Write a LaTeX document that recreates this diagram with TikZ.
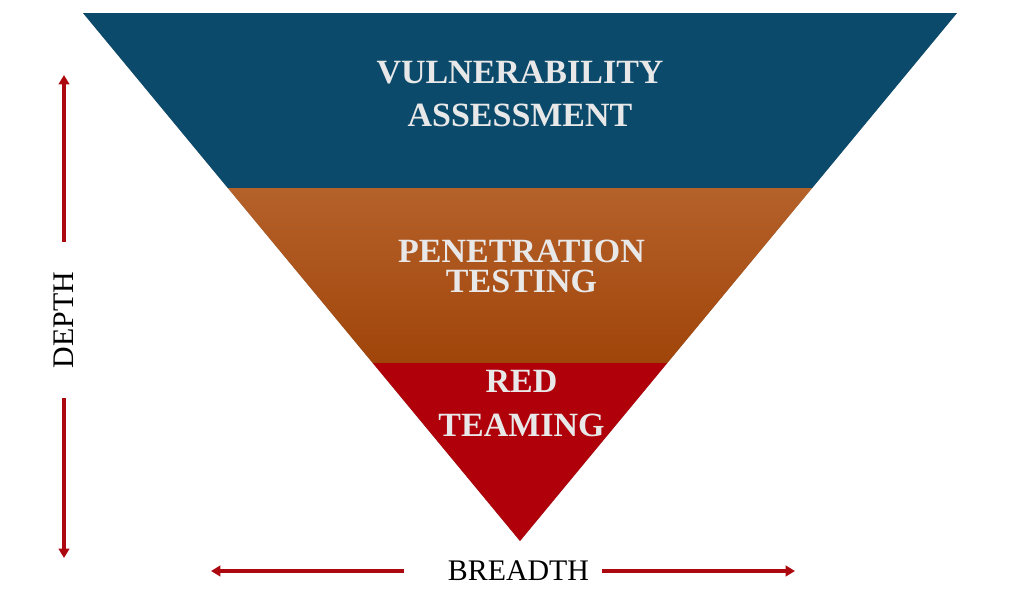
\documentclass[tikz,border=0pt]{standalone}
\usepackage{fontspec}
\setmainfont{Liberation Serif}
\usetikzlibrary{arrows.meta}

\definecolor{vaBlue}{RGB}{11,74,107}
\definecolor{ptTop}{RGB}{181,97,42}
\definecolor{ptBottom}{RGB}{160,69,10}
\definecolor{rtRed}{RGB}{176,0,10}
\definecolor{labelGrey}{RGB}{232,232,232}
\definecolor{axisRed}{RGB}{172,8,16}

\tikzset{
  bandtext/.style={anchor=center, inner sep=0pt, text=labelGrey, align=center},
  axislabel/.style={inner sep=0pt, text=black,
    font=\fontsize{25.5}{27}\selectfont},
  axisarrow/.style={draw=axisRed, line width=2.8pt,
    -{Triangle[width=9pt,length=8pt]}},
}

\begin{document}
\begin{tikzpicture}[x=0.03cm, y=-0.03cm]
  \useasboundingbox (0,0) rectangle (1020,589);

  % corners of the funnel and of its three bands
  \coordinate (TL) at (83,13);
  \coordinate (TR) at (957,13);
  \coordinate (L1) at (227.8,188);
  \coordinate (R1) at (812.2,188);
  \coordinate (L2) at (372.7,363);
  \coordinate (R2) at (667.3,363);
  \coordinate (tip) at (520,541);

  % soft drop shadow under the funnel
  \foreach \d/\o in {3.5/0.08, 2.5/0.12, 1.5/0.18}
    \fill[black, opacity=\o, shift={(\d,\d)}] (TL) -- (TR) -- (tip) -- cycle;

  % bands
  \fill[vaBlue] (TL) -- (TR) -- (R1) -- (L1) -- cycle;
  \shade[top color=ptTop, bottom color=ptBottom] (L1) -- (R1) -- (R2) -- (L2) -- cycle;
  \fill[rtRed] (L2) -- (R2) -- (tip) -- cycle;

  % band labels
  \node[bandtext, font=\bfseries\fontsize{29}{36}\selectfont] (va) at (520,94)
    {VULNERABILITY\\ASSESSMENT};
  \node[bandtext, font=\bfseries\fontsize{29}{25.6}\selectfont] (pt) at (521.5,266)
    {PENETRATION\\TESTING};
  \node[bandtext, font=\bfseries\fontsize{29}{37.6}\selectfont] (rt) at (521.5,404)
    {RED\\TEAMING};

  % axes
  \node[axislabel, rotate=90, inner xsep=0.9cm] (depth) at (64,320) {DEPTH};
  \coordinate (depthTop) at (64,75);
  \coordinate (depthBottom) at (64,558);
  \draw[axisarrow] (depth) -- (depthTop);
  \draw[axisarrow] (depth) -- (depthBottom);

  \node[axislabel, anchor=base] (breadth) at (518.5,580) {BREADTH};
  \coordinate (breadthLeft) at (211,571);
  \coordinate (breadthRight) at (795,571);
  \draw[axisarrow] ([xshift=-1.32cm]breadth.west |- breadthLeft) -- (breadthLeft);
  \draw[axisarrow] ([xshift=0.39cm]breadth.east |- breadthRight) -- (breadthRight);
\end{tikzpicture}
\end{document}
